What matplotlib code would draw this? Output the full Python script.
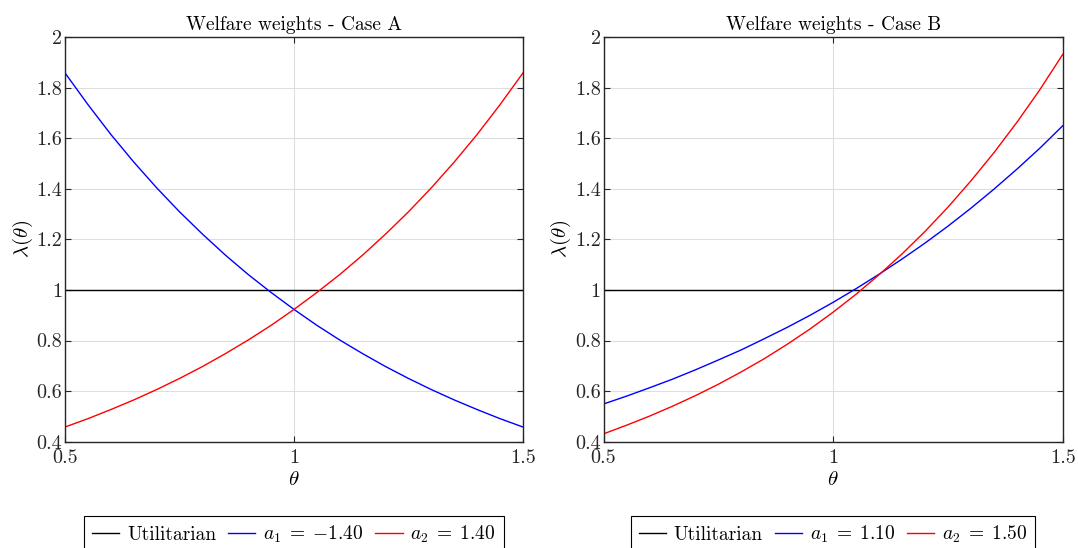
import matplotlib
matplotlib.use("Agg")
import matplotlib.pyplot as plt
from matplotlib.ticker import FixedLocator, FixedFormatter

plt.rcParams['font.family'] = ['serif']
plt.rcParams['font.serif'] = ['cmr10', 'DejaVu Serif']
plt.rcParams['mathtext.fontset'] = 'cm'
plt.rcParams['axes.unicode_minus'] = False
plt.rcParams['axes.formatter.use_mathtext'] = True

theta = [0.50, 0.55, 0.60, 0.65, 0.70, 0.75, 0.80, 0.85, 0.90, 0.95, 1.00,
         1.05, 1.10, 1.15, 1.20, 1.25, 1.30, 1.35, 1.40, 1.45, 1.50]

# Case A
utilA = [1.0] * len(theta)
a1_A = [1.858, 1.733, 1.615, 1.506, 1.404, 1.309, 1.221, 1.138, 1.061, 0.990, 0.923,
        0.860, 0.802, 0.748, 0.697, 0.650, 0.606, 0.565, 0.527, 0.491, 0.458]
a2_A = [0.458, 0.491, 0.527, 0.565, 0.606, 0.650, 0.697, 0.748, 0.802, 0.860, 0.923,
        0.990, 1.061, 1.138, 1.221, 1.309, 1.404, 1.506, 1.615, 1.733, 1.858]

# Case B
utilB = [1.0] * len(theta)
a1_B = [0.549, 0.580, 0.613, 0.647, 0.684, 0.723, 0.763, 0.807, 0.852, 0.900, 0.951,
        1.005, 1.062, 1.122, 1.185, 1.252, 1.323, 1.398, 1.477, 1.560, 1.649]
a2_B = [0.431, 0.465, 0.501, 0.540, 0.582, 0.627, 0.676, 0.728, 0.785, 0.846, 0.912,
        0.983, 1.060, 1.142, 1.231, 1.327, 1.431, 1.542, 1.662, 1.791, 1.931]

titles = ["Welfare weights - Case A", "Welfare weights - Case B"]
labelsA = ["Utilitarian", r"$a_1\;=\;{-1.40}$", r"$a_2\;=\;1.40$"]
labelsB = ["Utilitarian", r"$a_1\;=\;1.10$", r"$a_2\;=\;1.50$"]

xticks = [0.5, 1.0, 1.5]
xticklabels = ["0.5", "1", "1.5"]
yticks = [0.4, 0.6, 0.8, 1.0, 1.2, 1.4, 1.6, 1.8, 2.0]
yticklabels = ["0.4", "0.6", "0.8", "1", "1.2", "1.4", "1.6", "1.8", "2"]

W, H = 1078, 548
fig = plt.figure(figsize=(W / 100, H / 100), dpi=100)
axL = fig.add_axes([65 / W, 1 - 441.7 / H, (523 - 65) / W, (441.7 - 37) / H])
axR = fig.add_axes([603.5 / W, 1 - 441.7 / H, (1062.7 - 603.5) / W, (441.7 - 37) / H])

axcol = '#262626'
for ax, title, series, labels in [
    (axL, titles[0], (utilA, a1_A, a2_A), labelsA),
    (axR, titles[1], (utilB, a1_B, a2_B), labelsB),
]:
    l0, = ax.plot(theta, series[0], color='black', lw=1.0)
    l1, = ax.plot(theta, series[1], color='#0000ff', lw=1.0)
    l2, = ax.plot(theta, series[2], color='#ff0000', lw=1.0)
    ax.set_xlim(0.5, 1.5)
    ax.set_ylim(0.4, 2.0)
    ax.xaxis.set_major_locator(FixedLocator(xticks))
    ax.xaxis.set_major_formatter(FixedFormatter(xticklabels))
    ax.yaxis.set_major_locator(FixedLocator(yticks))
    ax.yaxis.set_major_formatter(FixedFormatter(yticklabels))
    ax.grid(True, color='#dedede', lw=0.8)
    ax.set_axisbelow(True)
    ax.tick_params(direction='in', top=True, right=True, length=4, width=0.8,
                   colors=axcol, labelcolor='#262626', labelsize=14.5)
    ax.tick_params(axis='x', pad=5)
    ax.tick_params(axis='y', pad=2)
    for s in ax.spines.values():
        s.set_color(axcol)
        s.set_linewidth(1.0)
    ax.set_title(title, fontsize=14, pad=5)
    ax.set_xlabel(r"$\theta$", fontsize=15, labelpad=3)
    ax.set_ylabel(r"$\lambda(\theta)$", fontsize=15, labelpad=1)
    leg = ax.legend([l0, l1, l2], labels, loc='upper center', ncol=3,
                    bbox_to_anchor=(0.5, -0.183), fontsize=14, frameon=True,
                    fancybox=False, edgecolor='black', framealpha=1,
                    handlelength=1.4, columnspacing=0.6, handletextpad=0.4,
                    borderaxespad=0, borderpad=0.4)
    leg.get_frame().set_linewidth(0.8)

fig.savefig("out.png", dpi=100)
